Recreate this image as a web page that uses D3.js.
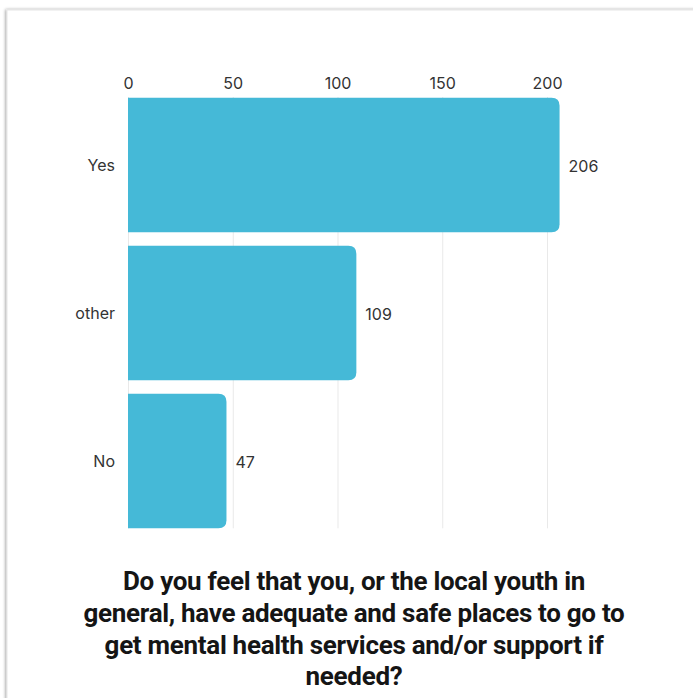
<!DOCTYPE html>
<html>
<head>
<meta charset="utf-8">
<script src="https://cdn.jsdelivr.net/npm/d3@7"></script>
<style>
  html, body { margin: 0; padding: 0; background: #ffffff; }
  svg { display: block; }
</style>
</head>
<body>
<svg id="chart" width="693" height="698"></svg>
<script>
// Survey responses
const categories = ["Yes", "other", "No"];
const counts = [206, 109, 47];
const tickValues = [0, 50, 100, 150, 200];
const titleLines = [
  "Do you feel that you, or the local youth in",
  "general, have adequate and safe places to go to",
  "get mental health services and/or support if",
  "needed?"
];

const labelFont = "Inter, 'Open Sans', sans-serif";
const svg = d3.select("#chart");

// Card background with a soft edge on the left/top
const defs = svg.append("defs");
const f = defs.append("filter").attr("id", "cardShadow")
  .attr("x", "-5%").attr("y", "-5%").attr("width", "110%").attr("height", "110%");
f.append("feDropShadow").attr("dx", -1).attr("dy", 0).attr("stdDeviation", 1.8)
  .attr("flood-color", "#000").attr("flood-opacity", 0.4);

svg.append("rect")
  .attr("x", 7).attr("y", 10).attr("width", 720).attr("height", 720)
  .attr("fill", "#ffffff")
  .attr("stroke", "#e6e6e6").attr("stroke-width", 1)
  .attr("filter", "url(#cardShadow)");

const x = d3.scaleLinear().domain([0, 200]).range([128, 547]);
const y = d3.scaleBand().domain(categories).range([91, 535])
  .paddingInner(0.09).paddingOuter(0.045);

const data = categories.map((c, i) => ({ cat: c, value: counts[i] }));

// Vertical gridlines
svg.append("g").selectAll("line")
  .data(tickValues)
  .join("line")
  .attr("x1", d => x(d) + 0.5).attr("x2", d => x(d) + 0.5)
  .attr("y1", y.range()[0] + 6).attr("y2", y(categories[2]) + y.bandwidth())
  .attr("stroke", "#e9e9e9").attr("stroke-width", 1);

// Top axis labels
const axis = d3.axisTop(x).tickValues(tickValues).tickSize(0).tickPadding(0);
const gAxis = svg.append("g").attr("transform", "translate(0,89)").call(axis);
gAxis.select(".domain").remove();
gAxis.selectAll("text")
  .attr("font-family", labelFont)
  .attr("font-size", 16).attr("fill", "#333").attr("dy", 0);

// Bars with rounded right end
const r = 8;
function barPath(d) {
  const x0 = x(0), x1 = x(d.value), y0 = y(d.cat), h = y.bandwidth();
  return `M${x0},${y0} H${x1 - r} Q${x1},${y0} ${x1},${y0 + r} V${y0 + h - r} Q${x1},${y0 + h} ${x1 - r},${y0 + h} H${x0} Z`;
}
svg.append("g").selectAll("path")
  .data(data)
  .join("path")
  .attr("d", barPath)
  .attr("fill", "#45b9d7");

// Category labels
const yAxis = d3.axisLeft(y).tickSize(0).tickPadding(0);
const gY = svg.append("g").attr("transform", "translate(115,1)").call(yAxis);
gY.select(".domain").remove();
gY.selectAll("text")
  .attr("font-family", labelFont)
  .attr("font-size", 16).attr("fill", "#333");

// Value labels
svg.append("g").selectAll("text")
  .data(data)
  .join("text")
  .attr("x", d => x(d.value) + 9)
  .attr("y", d => y(d.cat) + y.bandwidth() / 2 + 1)
  .attr("dy", "0.35em")
  .attr("font-family", labelFont)
  .attr("font-size", 16).attr("fill", "#333")
  .text(d => d.value);

// Title
svg.append("g").selectAll("text")
  .data(titleLines)
  .join("text")
  .attr("x", 354)
  .attr("y", (d, i) => 590 + i * 31.8)
  .attr("text-anchor", "middle")
  .attr("font-family", "Roboto, 'Noto Sans', sans-serif")
  .attr("font-weight", 700)
  .attr("font-size", 26)
  .attr("letter-spacing", -0.3)
  .attr("fill", "#151515")
  .text(d => d);
</script>
</body>
</html>
